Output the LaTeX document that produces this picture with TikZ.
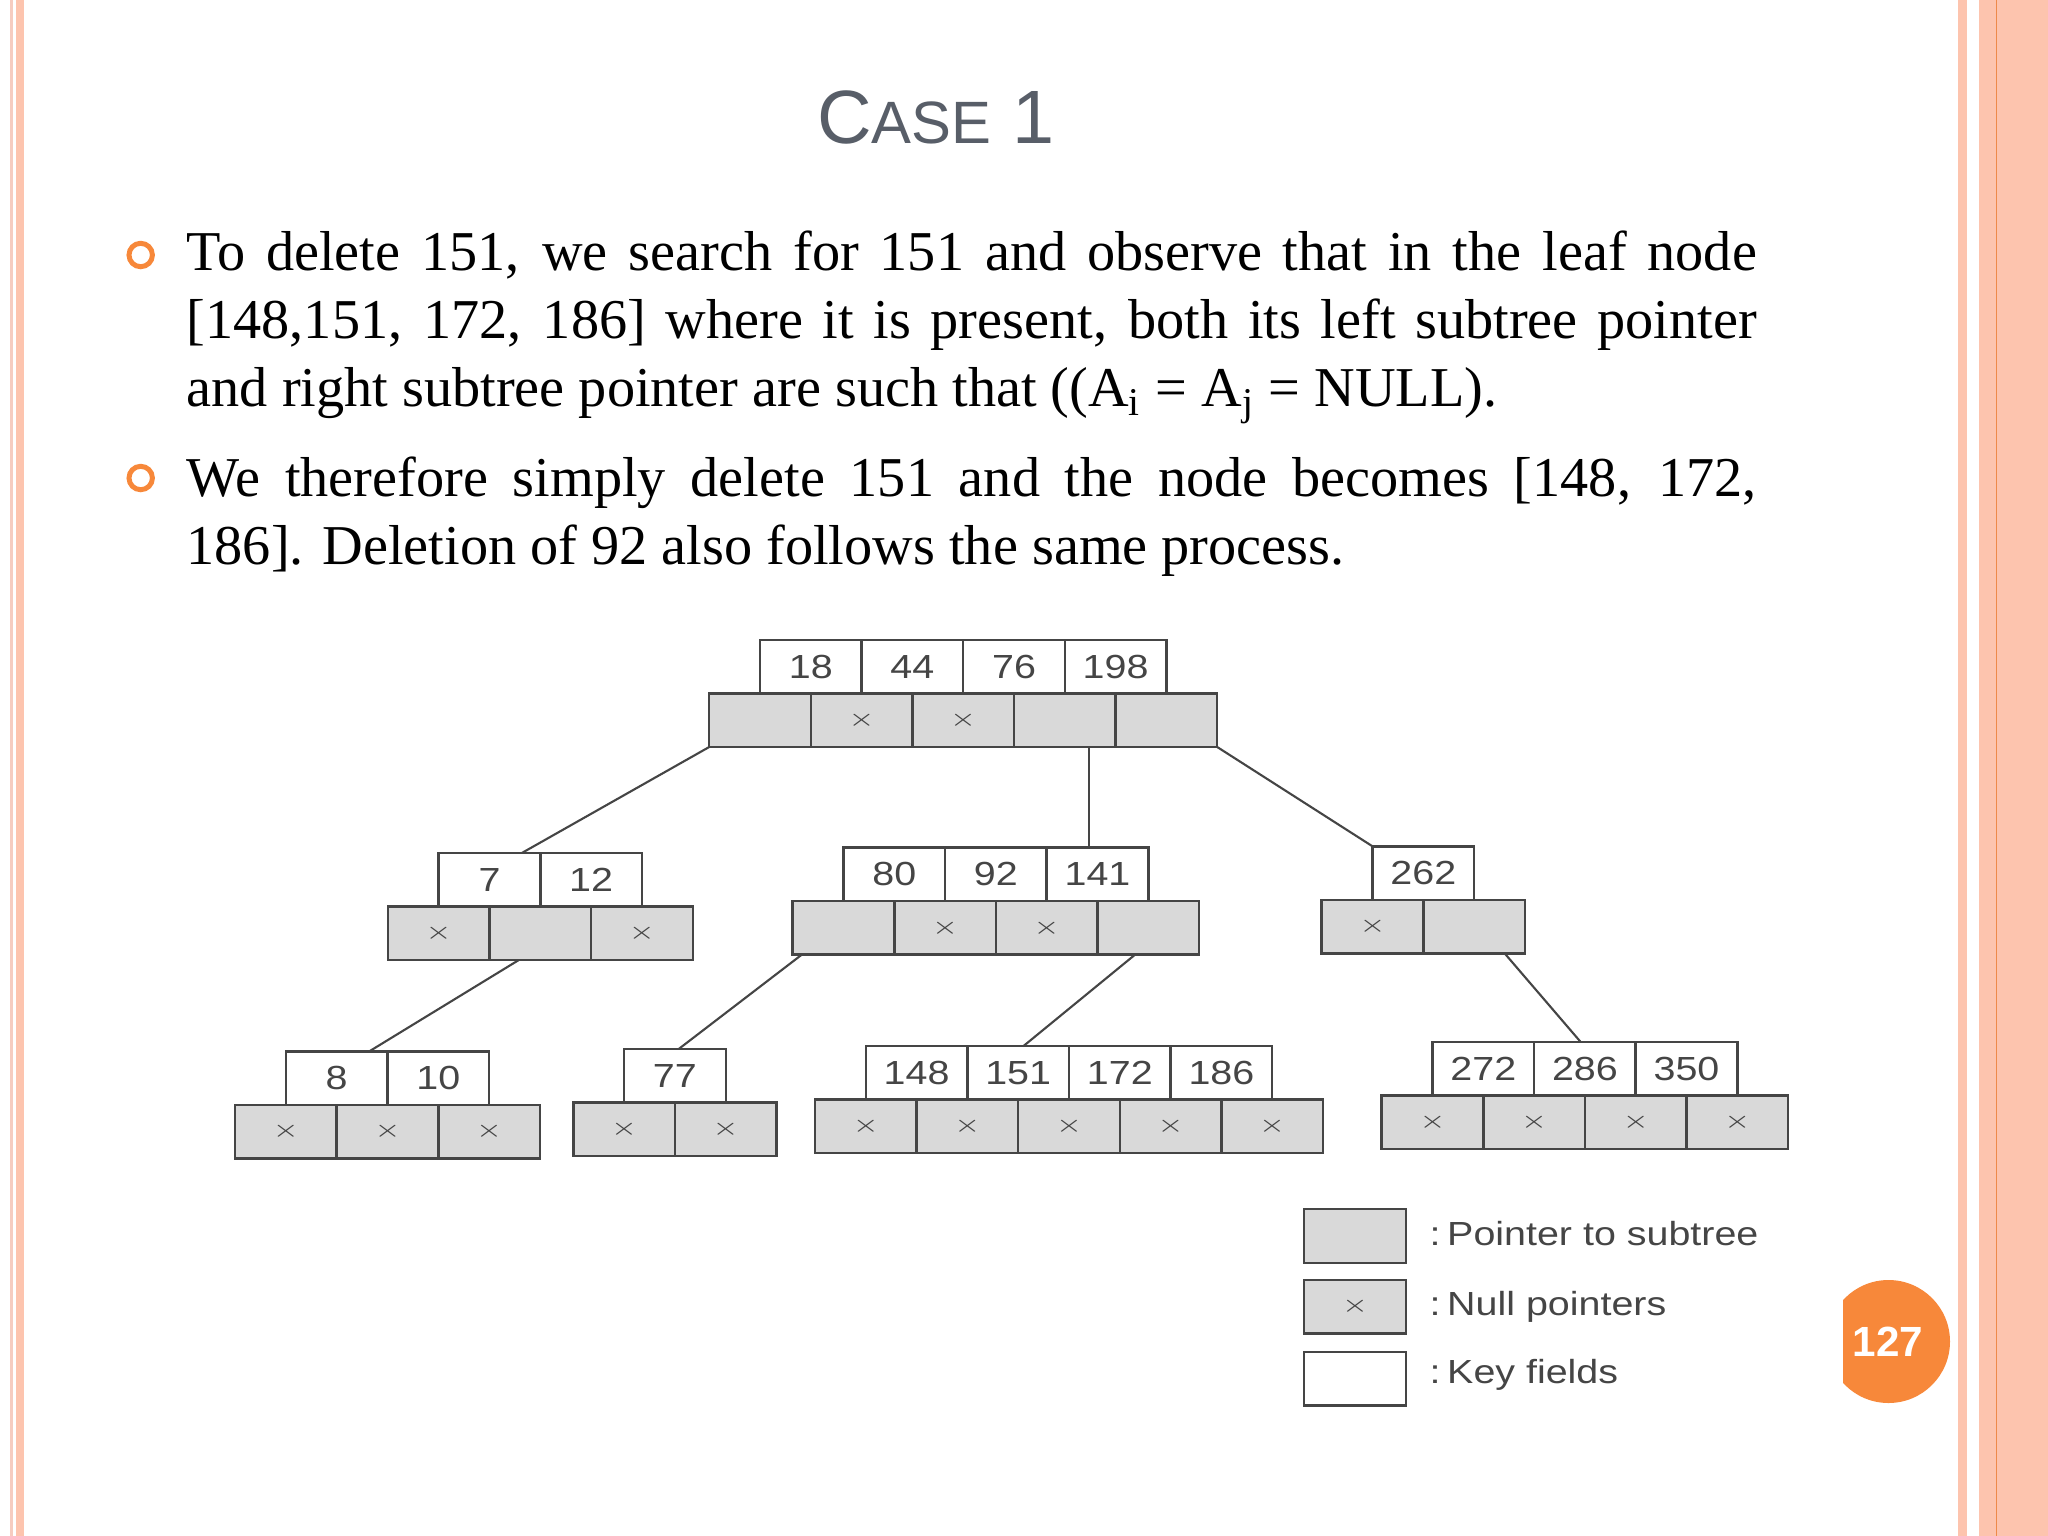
\documentclass[tikz,border=0pt]{standalone}
\usepackage{fontspec}
\setmainfont{Liberation Serif}
\setsansfont{Liberation Sans}
\usepackage{graphicx}
\usetikzlibrary{calc}
\definecolor{slideorange}{HTML}{F7883A}
\definecolor{borderpink}{HTML}{FDC4AE}
\definecolor{borderpale}{HTML}{F6CCC0}
\definecolor{borderline}{HTML}{EE8A4A}
\definecolor{titlegray}{HTML}{585E68}
\definecolor{inkgray}{HTML}{454545}
\definecolor{ptrfill}{HTML}{D9D9D9}
\newcommand{\wide}[1]{\scalebox{1.18}[1]{#1}}
\newcommand{\nullmark}{\scalebox{1.35}[1]{\fontsize{6.5}{7}\selectfont$\times$}}
\tikzset{
  keycell/.style   ={draw=inkgray,line width=0.7pt,fill=white,minimum width=1.016cm,minimum height=0.535cm,
                     inner sep=0pt,outer sep=0pt,font=\sffamily\fontsize{9.5}{11}\selectfont,text=inkgray},
  ptrcell/.style   ={draw=inkgray,line width=0.7pt,fill=ptrfill,minimum width=1.016cm,minimum height=0.535cm,
                     inner sep=0pt,outer sep=0pt,text=inkgray},
  treeedge/.style  ={inkgray,line width=0.6pt},
  para/.style      ={anchor=base west,inner sep=0pt,text width=446.5pt,align=justify,font=\fontsize{16}{19.4}\selectfont},
  bulletring/.style={circle,draw=slideorange,line width=1.42pt,minimum size=0.234cm,inner sep=0pt},
  legendtext/.style={anchor=base west,inner sep=0pt,font=\sffamily\fontsize{9.5}{11}\selectfont,text=inkgray},
  slidetitle/.style={anchor=base,inner sep=0pt,font=\sffamily\fontsize{21.5}{26}\selectfont,text=titlegray},
}
\begin{document}
\begin{tikzpicture}[x=0.01cm,y=-0.01cm]
  \useasboundingbox (0,0) rectangle (2048,1536);
  % slide frame
  \fill[borderpale] (10,0) rectangle (13.3,1536);
  \fill[borderpink] (16,0) rectangle (24,1536);
  \fill[borderpink] (1958,0) rectangle (1967,1536);
  \fill[borderpink] (1979,0) rectangle (2048,1536);
  \fill[borderline] (1995.5,0) rectangle (1997,1536);

  \node[slidetitle] (title) at (936,143) {C\fontsize{17}{20}\selectfont ASE\fontsize{21.5}{26}\selectfont{} 1};

  \node[bulletring] (bul1) at (140.7,255) {};
  \node[bulletring] (bul2) at (140.7,478) {};
  \node[para] (par1) at (186,270) {To delete 151, we search for 151 and observe that in the leaf node\linebreak{}[148,151, 172, 186] where it is present, both its left subtree pointer\linebreak{}and right subtree pointer are such that ((A\textsubscript{i} = A\textsubscript{j} = NULL).};
  \node[para] (par2) at (186,496) {We therefore simply delete 151 and the node becomes [148, 172,\linebreak{}186]. Deletion of 92 also follows the same process.};

  % tree nodes: name / left of pointer row / key-pointer border / keys / null flags
  \foreach \nm/\lx/\my/\keys/\ptrs in {
      root/709.2/693.5/{18,44,76,198}/{0,1,1,0,0},
      a/387.9/906.4/{7,12}/{1,0,1},
      b/792.7/901.1/{80,92,141}/{0,1,1,0},
      c/1321.7/899.8/{262}/{1,0},
      d/235.1/1104.9/{8,10}/{1,1,1},
      e/573.3/1102.3/{77}/{1,1},
      f/815/1099.7/{148,151,172,186}/{1,1,1,1,1},
      g/1381.7/1095.7/{272,286,350}/{1,1,1,1}}{
    \foreach \k [count=\i] in \keys
      \node[keycell] (\nm-k\i) at ({\lx+\i*101.6},{\my-26.75}) {\wide{\k}};
    \foreach \p [count=\i] in \ptrs
      \node[ptrcell] (\nm-p\i) at ({\lx+(\i-0.5)*101.6},{\my+26.75}) {\ifnum\p=1 \nullmark\fi};
  }

  \coordinate (rb) at ($(root-p4.south west)!0.74!(root-p4.south east)$);
  \draw[treeedge] (root-p1.south west) -- ($(a-k1.north west)!0.82!(a-k1.north east)$);
  \draw[treeedge] (rb) -- (rb |- b-k3.north);
  \draw[treeedge] (root-p5.south east) -- (c-k1.north west);
  \draw[treeedge] ($(a-p2.south west)!0.29!(a-p2.south east)$) -- ($(d-k1.north west)!0.82!(d-k1.north east)$);
  \draw[treeedge] ($(b-p1.south west)!0.09!(b-p1.south east)$) -- ($(e-k1.north west)!0.54!(e-k1.north east)$);
  \draw[treeedge] ($(b-p4.south west)!0.37!(b-p4.south east)$) -- ($(f-k2.north west)!0.55!(f-k2.north east)$);
  \draw[treeedge] ($(c-p2.south west)!0.80!(c-p2.south east)$) -- ($(g-k2.north west)!0.46!(g-k2.north east)$);

  % legend
  \node[ptrcell] (lg-ptr) at (1355,1236) {};
  \node[ptrcell] (lg-null) at (1355,1306.5) {\nullmark};
  \node[keycell] (lg-key) at (1355,1378.5) {};
  \node[legendtext] (lg-ptr-txt) at (1429,1245) {\wide{:\,Pointer to subtree}};
  \node[legendtext] (lg-null-txt) at (1429,1315) {\wide{:\,Null pointers}};
  \node[legendtext] (lg-key-txt) at (1429,1383) {\wide{:\,Key fields}};

  % page number
  \begin{scope}
    \clip (1843,1270) rectangle (1958,1415);
    \fill[slideorange] (1888.5,1341.5) circle[radius=61.5];
  \end{scope}
  \node[font=\sffamily\bfseries\fontsize{12}{14}\selectfont,text=white] (pagenum) at (1888,1342) {127};
\end{tikzpicture}
\end{document}
